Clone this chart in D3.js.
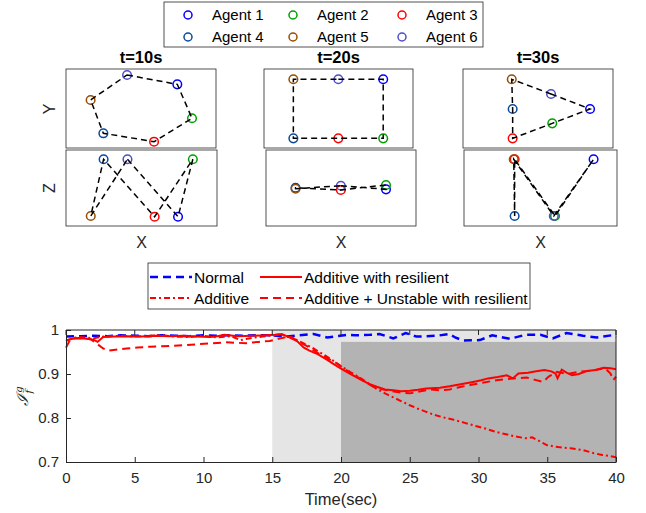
<!DOCTYPE html>
<html>
<head>
<meta charset="utf-8">
<script src="https://cdn.jsdelivr.net/npm/d3@7"></script>
<style>
  body { margin: 0; background: #fff; }
  text { font-family: "Liberation Sans", Arial, sans-serif; fill: #262626; }
</style>
</head>
<body>
<div class="canvas"></div>
<script>
// ---- agent formation data (X, Y, Z) at three instants ----
const agentNames = ["Agent 1", "Agent 2", "Agent 3", "Agent 4", "Agent 5", "Agent 6"];
const agentColors = ["#0000ff", "#00a000", "#ff0000", "#0b4a99", "#994d00", "#4d4dcc"];
const snapshotTitles = ["t=10s", "t=20s", "t=30s"];
const ringOrder = [5, 0, 1, 2, 3, 4]; // 6-1-2-3-4-5-6

const posX10 = [7.42, 8.4, 5.87, 2.49, 1.64, 4.07];
const posY10 = [4.03, 1.88, 0.40, 0.93, 3.04, 4.62];
const posZ10 = [0.61, 4.39, 0.61, 4.39, 0.66, 4.39];

const posX20 = [8.0, 8.0, 4.99, 1.97, 1.97, 4.99];
const posY20 = [4.35, 0.61, 0.61, 0.61, 4.35, 4.35];
const posZ20 = [2.41, 2.70, 2.37, 2.52, 2.45, 2.65];

const posX30 = [8.47, 5.95, 3.31, 3.31, 3.25, 5.87];
const posY30 = [2.47, 1.56, 0.61, 2.47, 4.35, 3.42];
const posZ30 = [4.39, 0.66, 4.39, 0.66, 4.39, 0.66];

// ---- formation index time series ----
const normalT = [0, 1, 2, 3, 4, 5, 6, 7, 8, 9, 10, 11, 12, 13, 14, 15, 16, 17, 18, 19, 20.4, 21, 22.1, 22.8, 23.8, 24.7, 25.5, 27, 27.9, 28.3, 28.9, 30.1, 31, 32.3, 33.4, 34.5, 35.4, 36.4, 37.6, 38.6, 39.7, 40];
const normalV = [0.985, 0.986, 0.987, 0.986, 0.988, 0.987, 0.986, 0.988, 0.987, 0.986, 0.988, 0.987, 0.988, 0.987, 0.988, 0.988, 0.985, 0.988, 0.991, 0.983, 0.989, 0.988, 0.989, 0.991, 0.981, 0.993, 0.985, 0.987, 0.991, 0.983, 0.976, 0.977, 0.988, 0.98, 0.989, 0.989, 0.981, 0.993, 0.987, 0.983, 0.988, 0.984];

const resilientT = [0, 0.5, 1, 1.5, 2, 2.3, 2.7, 3.5, 4.5, 5.5, 6.5, 7.5, 8.5, 9.5, 10.5, 11, 11.5, 12.5, 13.5, 14.5, 15.2, 15.7, 16.2, 16.8, 17.3, 17.7, 18.3, 19, 19.5, 20, 20.7, 21.4, 22, 22.6, 23.2, 23.8, 24.4, 25, 25.6, 26.2, 27.2, 27.9, 28.6, 29.6, 30.2, 30.7, 31.4, 32.05, 32.5, 32.9, 33.6, 34.2, 34.8, 35.3, 35.6, 35.75, 36.05, 36.4, 36.8, 37.3, 37.9, 38.5, 39.1, 39.6, 40];
const resilientV = [0.977, 0.98, 0.981, 0.98, 0.978, 0.973, 0.984, 0.985, 0.986, 0.985, 0.987, 0.986, 0.987, 0.985, 0.984, 0.986, 0.989, 0.986, 0.987, 0.988, 0.989, 0.991, 0.984, 0.975, 0.96, 0.953, 0.945, 0.932, 0.922, 0.912, 0.9, 0.888, 0.878, 0.871, 0.865, 0.863, 0.861, 0.862, 0.864, 0.867, 0.869, 0.872, 0.876, 0.882, 0.886, 0.89, 0.893, 0.897, 0.89, 0.901, 0.903, 0.906, 0.909, 0.906, 0.901, 0.89, 0.91, 0.903, 0.897, 0.9, 0.907, 0.909, 0.914, 0.913, 0.911];

const unstableT = [0, 0.3, 0.7, 1.2, 1.8, 2.2, 2.7, 3.1, 3.6, 4.4, 5.2, 6.1, 7, 7.8, 8.8, 9.7, 10.7, 11.7, 12.4, 13.1, 14, 14.8, 15.6, 16.3, 17, 17.6, 18.3, 19, 19.6, 20.2, 21, 21.6, 22.3, 23, 23.7, 24.3, 25, 25.7, 26.5, 27.2, 27.9, 28.6, 29.4, 30.3, 31.3, 32.3, 33.5, 34.2, 34.7, 35.1, 35.7, 36.5, 37.3, 38, 38.7, 39.2, 39.6, 39.8, 40];
const unstableV = [0.96, 0.978, 0.982, 0.981, 0.979, 0.97, 0.958, 0.953, 0.955, 0.958, 0.96, 0.962, 0.963, 0.964, 0.966, 0.968, 0.97, 0.972, 0.971, 0.97, 0.973, 0.975, 0.981, 0.986, 0.972, 0.962, 0.948, 0.936, 0.926, 0.912, 0.898, 0.885, 0.872, 0.865, 0.861, 0.858, 0.856, 0.86, 0.865, 0.863, 0.865, 0.87, 0.875, 0.88, 0.886, 0.889, 0.892, 0.886, 0.882, 0.894, 0.905, 0.9, 0.905, 0.907, 0.91, 0.913, 0.901, 0.886, 0.894];

const additiveT = [0, 0.5, 1, 1.5, 2, 2.5, 3, 4, 5, 6, 7, 8, 9, 10, 11, 12, 12.7, 13.5, 14.3, 15, 15.6, 16.2, 16.8, 17.4, 18, 18.7, 19.4, 20, 20.7, 21.4, 22, 22.6, 23.2, 23.8, 24.4, 25, 25.6, 26.2, 26.8, 27.5, 28.2, 29, 29.8, 30.6, 31.3, 32, 32.7, 33.4, 33.9, 34.4, 35, 35.8, 36.7, 37.6, 38.4, 39, 39.5, 40];
const additiveV = [0.975, 0.982, 0.984, 0.983, 0.981, 0.984, 0.986, 0.987, 0.985, 0.987, 0.988, 0.985, 0.984, 0.987, 0.983, 0.986, 0.977, 0.982, 0.985, 0.987, 0.99, 0.985, 0.977, 0.968, 0.958, 0.945, 0.931, 0.918, 0.904, 0.891, 0.879, 0.866, 0.856, 0.847, 0.838, 0.829, 0.821, 0.814, 0.807, 0.801, 0.796, 0.789, 0.782, 0.775, 0.768, 0.763, 0.758, 0.754, 0.756, 0.748, 0.738, 0.734, 0.731, 0.727, 0.72, 0.716, 0.714, 0.711];

const xTicks = [0, 5, 10, 15, 20, 25, 30, 35, 40];
const yTicks = [0.7, 0.8, 0.9, 1];
const attackStart = 15, resilientStart = 20, shadeTop = 0.973;

const width = 646, height = 513;
const svg = d3.select(".canvas").append("svg").attr("width", width).attr("height", height);

// ---- top legend ----
const legend = svg.append("g");
legend.append("rect").attr("x", 164).attr("y", 2).attr("width", 319).attr("height", 45)
  .attr("fill", "#fff").attr("stroke", "#262626").attr("stroke-width", 0.8);
const legendCols = [188, 293, 402];
agentNames.forEach((name, i) => {
  const cx = legendCols[i % 3], cy = i < 3 ? 15 : 37;
  legend.append("circle").attr("cx", cx).attr("cy", cy).attr("r", 4)
    .attr("fill", "none").attr("stroke", agentColors[i]).attr("stroke-width", 1.5);
  legend.append("text").attr("x", cx + 24).attr("y", cy + 5).style("font-size", "15px").style("fill", "#000").text(name);
});

// ---- formation snapshots ----
const snapshots = [
  { x: posX10, y: posY10, z: posZ10 },
  { x: posX20, y: posY20, z: posZ20 },
  { x: posX30, y: posY30, z: posZ30 }
];
const topBoxes = [[66, 216], [264, 413], [463, 613]];
const botBoxes = [[66, 217], [266, 416], [464, 617]];

function drawPanel(x0, x1, y0, y1, xs, vs) {
  const g = svg.append("g");
  g.append("rect").attr("x", x0).attr("y", y0).attr("width", x1 - x0).attr("height", y1 - y0)
    .attr("fill", "#fff").attr("stroke", "#262626").attr("stroke-width", 0.8);
  const sx = d3.scaleLinear().domain([0, 10]).range([x0, x1]);
  const sy = d3.scaleLinear().domain([0, 5]).range([y1, y0]);
  const pts = agentNames.map((n, i) => ({ i, x: xs[i], v: vs[i] }));
  g.selectAll("circle").data(pts).enter().append("circle")
    .attr("cx", d => sx(d.x)).attr("cy", d => sy(d.v)).attr("r", 4.3)
    .attr("fill", "none").attr("stroke", d => agentColors[d.i]).attr("stroke-width", 1.5);
  const ring = ringOrder.map(i => pts[i]);
  g.append("path").datum(ring)
    .attr("d", d3.line().x(d => sx(d.x)).y(d => sy(d.v)).curve(d3.curveLinearClosed))
    .attr("fill", "none").attr("stroke", "#000").attr("stroke-width", 1.5)
    .attr("stroke-dasharray", "6,4");
}

snapshots.forEach((s, k) => {
  const [tx0, tx1] = topBoxes[k];
  const [bx0, bx1] = botBoxes[k];
  drawPanel(tx0, tx1, 69, 148, s.x, s.y);
  drawPanel(bx0, bx1, 150, 226, s.x, s.z);
  svg.append("text").attr("x", (tx0 + tx1) / 2).attr("y", 63).attr("text-anchor", "middle")
    .style("font-size", "16.5px").style("font-weight", "bold").style("fill", "#000").text(snapshotTitles[k]);
  svg.append("text").attr("x", (bx0 + bx1) / 2).attr("y", 248).attr("text-anchor", "middle")
    .style("font-size", "16px").text("X");
});
svg.append("text").attr("transform", "translate(55,109) rotate(-90)").attr("text-anchor", "middle")
  .style("font-size", "16px").text("Y");
svg.append("text").attr("transform", "translate(55,188) rotate(-90)").attr("text-anchor", "middle")
  .style("font-size", "16px").text("Z");

// ---- bottom legend ----
const leg2 = svg.append("g");
leg2.append("rect").attr("x", 148).attr("y", 263).attr("width", 382).attr("height", 46)
  .attr("fill", "#fff").attr("stroke", "#262626").attr("stroke-width", 0.8);
const seriesStyles = [
  { name: "Normal", color: "#0000ff", dash: "8,5", w: 2.5, lx: 150, ly: 277 },
  { name: "Additive with resilient", color: "#ff0000", dash: null, w: 2, lx: 260, ly: 277 },
  { name: "Additive", color: "#ff0000", dash: "6,3,2,3", w: 2, lx: 150, ly: 298 },
  { name: "Additive + Unstable with resilient", color: "#ff0000", dash: "8,5", w: 2, lx: 260, ly: 298 }
];
seriesStyles.forEach(s => {
  leg2.append("line").attr("x1", s.lx).attr("x2", s.lx + 42).attr("y1", s.ly).attr("y2", s.ly)
    .attr("stroke", s.color).attr("stroke-width", s.w).attr("stroke-dasharray", s.dash);
  leg2.append("text").attr("x", s.lx + 44).attr("y", s.ly + 5.5).style("font-size", "15.5px").style("fill", "#000").text(s.name);
});

// ---- bottom time series axes ----
const plot = { left: 66, right: 616, top: 330, bottom: 462 };
const x = d3.scaleLinear().domain([0, 40]).range([plot.left, plot.right]);
const y = d3.scaleLinear().domain([0.7, 1]).range([plot.bottom, plot.top]);

svg.append("rect").attr("x", x(attackStart)).attr("y", y(1)).attr("width", x(40) - x(attackStart))
  .attr("height", y(0.7) - y(1)).attr("fill", "#e5e5e5");
svg.append("rect").attr("x", x(resilientStart)).attr("y", y(shadeTop)).attr("width", x(40) - x(resilientStart))
  .attr("height", y(0.7) - y(shadeTop)).attr("fill", "#b3b3b3");

const lineGen = d3.line().x(d => x(d[0])).y(d => y(d[1]));
const series = [
  { t: normalT, v: normalV, s: seriesStyles[0] },
  { t: additiveT, v: additiveV, s: seriesStyles[2] },
  { t: unstableT, v: unstableV, s: seriesStyles[3] },
  { t: resilientT, v: resilientV, s: seriesStyles[1] }
];
series.forEach(d => {
  svg.append("path").datum(d.t.map((t, i) => [t, d.v[i]]))
    .attr("d", lineGen).attr("fill", "none").attr("stroke", d.s.color)
    .attr("stroke-width", d.s.w).attr("stroke-dasharray", d.s.dash);
});

const xAxis = svg.append("g").attr("transform", `translate(0,${plot.bottom})`)
  .call(d3.axisBottom(x).tickValues(xTicks).tickSizeInner(-5).tickSizeOuter(0).tickPadding(10));
const yAxis = svg.append("g").attr("transform", `translate(${plot.left},0)`)
  .call(d3.axisLeft(y).tickValues(yTicks).tickFormat(d3.format("")).tickSizeInner(-5).tickSizeOuter(0).tickPadding(7));
[xAxis, yAxis].forEach(a => {
  a.selectAll("path").attr("stroke", "#262626");
  a.selectAll("line").attr("stroke", "#262626");
  a.selectAll("text").style("font-size", "15px").style("font-family", "Liberation Sans, Arial, sans-serif").attr("fill", "#262626");
});
svg.append("line").attr("x1", plot.left).attr("x2", plot.right).attr("y1", plot.top).attr("y2", plot.top)
  .attr("stroke", "#262626");
svg.append("line").attr("x1", plot.right).attr("x2", plot.right).attr("y1", plot.top).attr("y2", plot.bottom)
  .attr("stroke", "#262626");
xTicks.forEach(t => {
  svg.append("line").attr("x1", x(t)).attr("x2", x(t)).attr("y1", plot.top).attr("y2", plot.top + 5).attr("stroke", "#262626");
});

svg.append("text").attr("x", (plot.left + plot.right) / 2).attr("y", 505).attr("text-anchor", "middle")
  .style("font-size", "16.5px").text("Time(sec)");

const ylab = svg.append("text").attr("transform", "translate(28,396) rotate(-90)").attr("text-anchor", "middle")
  .style("font-size", "16px").style("font-family", "DejaVu Serif, serif").style("font-style", "italic");
ylab.append("tspan").text("\u2110");
ylab.append("tspan").attr("dy", 4).style("font-size", "10px").text("f");
ylab.append("tspan").attr("dx", -3).attr("dy", -10).style("font-size", "10px").text("g");
</script>
</body>
</html>
